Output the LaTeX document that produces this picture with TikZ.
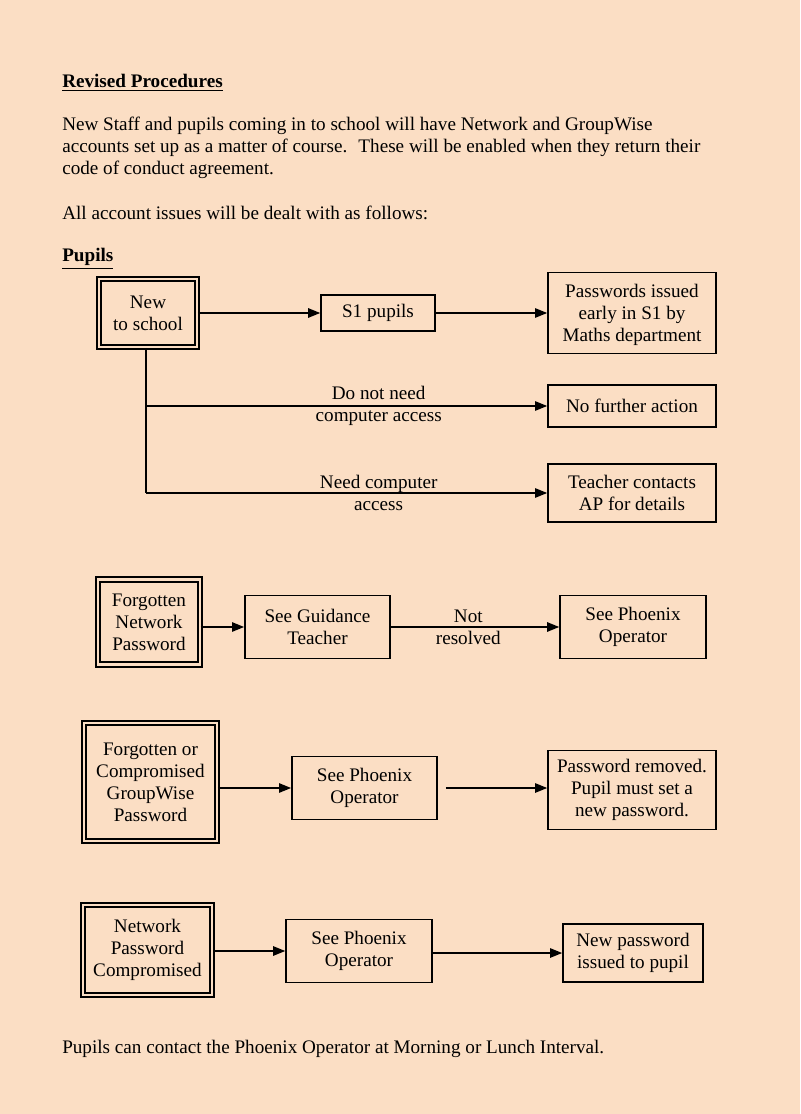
\documentclass[tikz,border=0pt]{standalone}
\usepackage{fontspec}
\setmainfont{Liberation Serif}
\usetikzlibrary{arrows.meta}
\definecolor{paper}{RGB}{251,222,196}
\newcommand\doctext{\fontsize{14.3}{16.4}\selectfont}
\tikzset{
	box/.style={draw, line width=1.2pt, inner sep=0pt, align=center, font=\doctext},
	dbox/.style={box, double=paper, double distance=2pt, line width=1.3pt},
	arr/.style={line width=1.1pt, -{Triangle[length=9pt,width=7pt]}},
	txt/.style={anchor=base west, inner sep=0pt, font=\doctext},
	lbl/.style={inner sep=0pt, align=center, font=\doctext},
}

\begin{document}
\begin{tikzpicture}[x=0.02625cm, y=-0.02625cm]
			%%%%% PAGE %%%%%
			\useasboundingbox (0,0) rectangle (800,1114);
			\fill[paper] (0,0) rectangle (800,1114);
			
			\node[txt] (title) at (62,88) {\underline{\textbf{Revised Procedures}}};
			\node[txt] (parone) at (62,131) {New Staff and pupils coming in to school will have Network and GroupWise};
			\node[txt] (partwo) at (62,153) {accounts set up as a matter of course.~ These will be enabled when they return their};
			\node[txt] (parthree) at (62,175) {code of conduct agreement.};
			\node[txt] (follows) at (62,220) {All account issues will be dealt with as follows:};
			\node[txt] (pupils) at (62,262) {\underline{\textbf{Pupils}}};
			
			%%%%% NEW TO SCHOOL %%%%%
			\node[dbox, minimum width=2.57cm, minimum height=1.78cm] (new) at (148,313) {New\\to school};
			\node[box, minimum width=2.99cm, minimum height=0.945cm] (sone) at (378,313) {S1 pupils};
			\node[box, minimum width=4.41cm, minimum height=2.13cm, text depth=0pt] (issued) at (632,313) {Passwords issued\\early in S1 by\\Maths department};
			\node[box, minimum width=4.41cm, minimum height=1.10cm] (noaction) at (632,406) {No further action};
			\node[box, minimum width=4.41cm, minimum height=1.52cm] (teacher) at (632,493) {Teacher contacts\\AP for details};
			
			\coordinate (fork) at (146,406);
			\coordinate (drop) at (146,493);
			
			\draw[arr] (new) -- (sone);
			\draw[arr] (sone) -- (issued);
			\draw[line width=1.1pt] (new.south -| drop) -- (drop);
			\draw[arr] (fork) -- node[lbl, pos=0.58] {Do not need\\computer access} (noaction.west);
			\draw[arr] (drop) -- node[lbl, pos=0.58] {Need computer\\access} (teacher.west);
			
			%%%%% FORGOTTEN NETWORK %%%%%
			\node[dbox, minimum width=2.67cm, minimum height=2.23cm] (fornet) at (149,622) {Forgotten\\Network\\Password};
			\node[box, minimum width=3.81cm, minimum height=1.65cm] (guidance) at (317.5,627) {See Guidance\\Teacher};
			\node[box, minimum width=3.83cm, minimum height=1.65cm] (phxone) at (633,627) {See Phoenix\\Operator};
			
			\draw[arr] (fornet.east |- guidance.west) -- (guidance.west);
			\draw[arr] (guidance) -- node[lbl, pos=0.46] {Not\\resolved} (phxone);
			
			%%%%% GROUPWISE %%%%%
			\node[dbox, minimum width=3.49cm, minimum height=3.09cm] (forgw) at (150.5,782) {Forgotten or\\Compromised\\GroupWise\\Password};
			\node[box, minimum width=3.81cm, minimum height=1.65cm] (phxtwo) at (364.5,788) {See Phoenix\\Operator};
			\node[box, minimum width=4.41cm, minimum height=2.07cm] (removed) at (632,790) {Password removed.\\Pupil must set a\\new password.};
			
			\draw[arr] (forgw.east |- phxtwo.west) -- (phxtwo.west);
			\draw[arr, shorten <=6pt] (phxtwo.east) -- (removed.west |- phxtwo.east);
			
			%%%%% COMPROMISED %%%%%
			\node[dbox, minimum width=3.38cm, minimum height=2.36cm] (netcomp) at (147.5,950) {Network\\Password\\Compromised};
			\node[box, minimum width=3.83cm, minimum height=1.65cm] (phxthree) at (359,951) {See Phoenix\\Operator};
			\node[box, minimum width=3.675cm, minimum height=1.52cm] (newpass) at (633,953) {New password\\issued to pupil};
			
			\draw[arr] (netcomp.east |- phxthree.west) -- (phxthree.west);
			\draw[arr] (phxthree.east |- newpass.west) -- (newpass.west);
			
			\node[txt] (contact) at (62,1053) {Pupils can contact the Phoenix Operator at Morning or Lunch Interval.};
			%%%%% END %%%%%
\end{tikzpicture}
\end{document}
